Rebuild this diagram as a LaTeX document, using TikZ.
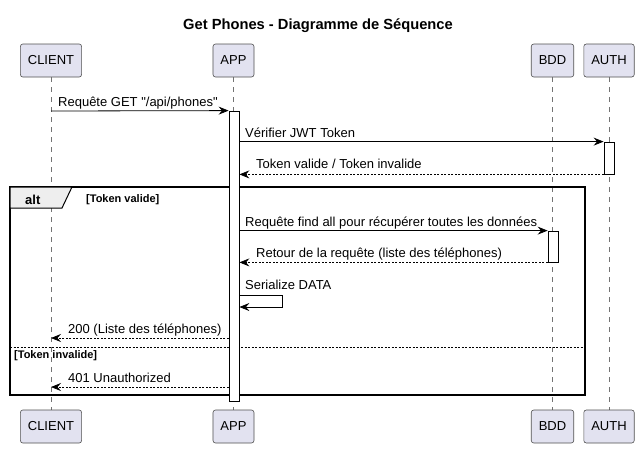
\documentclass[tikz,border=0pt]{standalone}
\usepackage{fontspec}
\setmainfont{Liberation Sans}[Ligatures=TeXOff]
\usetikzlibrary{arrows.meta}
\definecolor{partfill}{RGB}{226,226,240}
\definecolor{partdraw}{RGB}{80,80,80}
\definecolor{tabfill}{RGB}{238,238,238}
\begin{document}
\begin{tikzpicture}[x=1pt,y=-1pt,
  part/.style={draw=partdraw, fill=partfill, rounded corners=2.5pt, minimum height=33pt, inner xsep=7.5pt, font=\fontsize{13}{15}\selectfont, line width=0.6pt},
  life/.style={draw=black!55, dash pattern=on 5pt off 5pt, line width=0.6pt},
  act/.style={draw=black, fill=white, minimum width=10pt, inner sep=0pt, line width=0.8pt},
  msg/.style={-{Stealth[length=10pt,width=8pt,inset=3.5pt]}, line width=0.8pt},
  ret/.style={msg, dash pattern=on 2pt off 1.5pt},
  lbl/.style={anchor=base west, font=\fontsize{13}{15}\selectfont, inner sep=0pt},
  guard/.style={anchor=base west, font=\fontsize{11}{13}\selectfont\bfseries, inner sep=0pt}
]
\useasboundingbox (0,0) rectangle (639,448);
\fill[white] (0,0) rectangle (639,448);

% title
\node[anchor=base, font=\fontsize{14.7}{17}\selectfont\bfseries, inner sep=0pt] (title) at (318,29) {Get Phones - Diagramme de Séquence};

% lifelines
\coordinate (clt) at (51,77);  \coordinate (clb) at (51,410);
\coordinate (apt) at (233.5,77); \coordinate (apb) at (233.5,410);
\coordinate (bdt) at (552,77); \coordinate (bdb) at (552,410);
\coordinate (aut) at (609,77); \coordinate (aub) at (609,410);
\draw[life] (clt) -- (clb);
\draw[life] (apt) -- (apb);
\draw[life] (bdt) -- (bdb);
\draw[life] (aut) -- (aub);

% participants
\node[part] (client) at (51,60.5) {CLIENT};
\node[part] (app) at (233.5,60.5) {APP};
\node[part] (bdd) at (552.5,60.5) {BDD};
\node[part] (auth) at (609,60.5) {AUTH};
\node[part] (client2) at (51,426.5) {CLIENT};
\node[part] (app2) at (233.5,426.5) {APP};
\node[part] (bdd2) at (552.5,426.5) {BDD};
\node[part] (auth2) at (609,426.5) {AUTH};

% alt frame
\draw[line width=1.5pt] (10,187) rectangle (585,395);
\draw[fill=tabfill, line width=1pt] (10,187) -- (72,187) -- (62,208) -- (10,208) -- cycle;
\node[anchor=base west, font=\fontsize{13}{15}\selectfont\bfseries, inner sep=0pt] (altlbl) at (25,204) {alt};
\node[guard] (g1) at (86,202) {[Token valide]};
\draw[line width=0.8pt, dash pattern=on 2pt off 1.5pt] (10,347) -- (585,347);
\node[guard] (g2) at (14,358) {[Token invalide]};

% activations
\node[act, minimum height=290pt] (appact) at (234,256) {};
\node[act, minimum height=32pt] (authact) at (609,158) {};
\node[act, minimum height=31pt] (bddact) at (553,246.5) {};

% messages
\coordinate (m1) at (0,111);
\draw[msg] (clt |- m1) -- (appact.north west);
\node[lbl] (t1) at (58,106) {Requête GET "/api/phones"};

\draw[msg] (appact.east |- authact.north) -- (authact.north west);
\node[lbl] (t2) at (245,137) {Vérifier JWT Token};

\draw[ret] (authact.south west) -- (appact.east |- authact.south);
\node[lbl] (t3) at (256,168) {Token valide / Token invalide};

\draw[msg] (appact.east |- bddact.north) -- (bddact.north west);
\node[lbl] (t4) at (245,226) {Requête find all pour récupérer toutes les données};

\draw[ret] (bddact.south west) -- (appact.east |- bddact.south);
\node[lbl] (t5) at (256,257) {Retour de la requête (liste des téléphones)};

\coordinate (s1) at (0,295); \coordinate (s2) at (282,295); \coordinate (s3) at (282,307); \coordinate (s4) at (0,307);
\draw[msg] (appact.east |- s1) -- (s2) -- (s3) -- (appact.east |- s4);
\node[lbl] (t6) at (245,289) {Serialize DATA};

\coordinate (m7) at (0,338);
\draw[ret] (appact.west |- m7) -- (clt |- m7);
\node[lbl] (t7) at (68,333) {200 (Liste des téléphones)};

\coordinate (m8) at (0,387);
\draw[ret] (appact.west |- m8) -- (clt |- m8);
\node[lbl] (t8) at (68,382) {401 Unauthorized};
\end{tikzpicture}
\end{document}
